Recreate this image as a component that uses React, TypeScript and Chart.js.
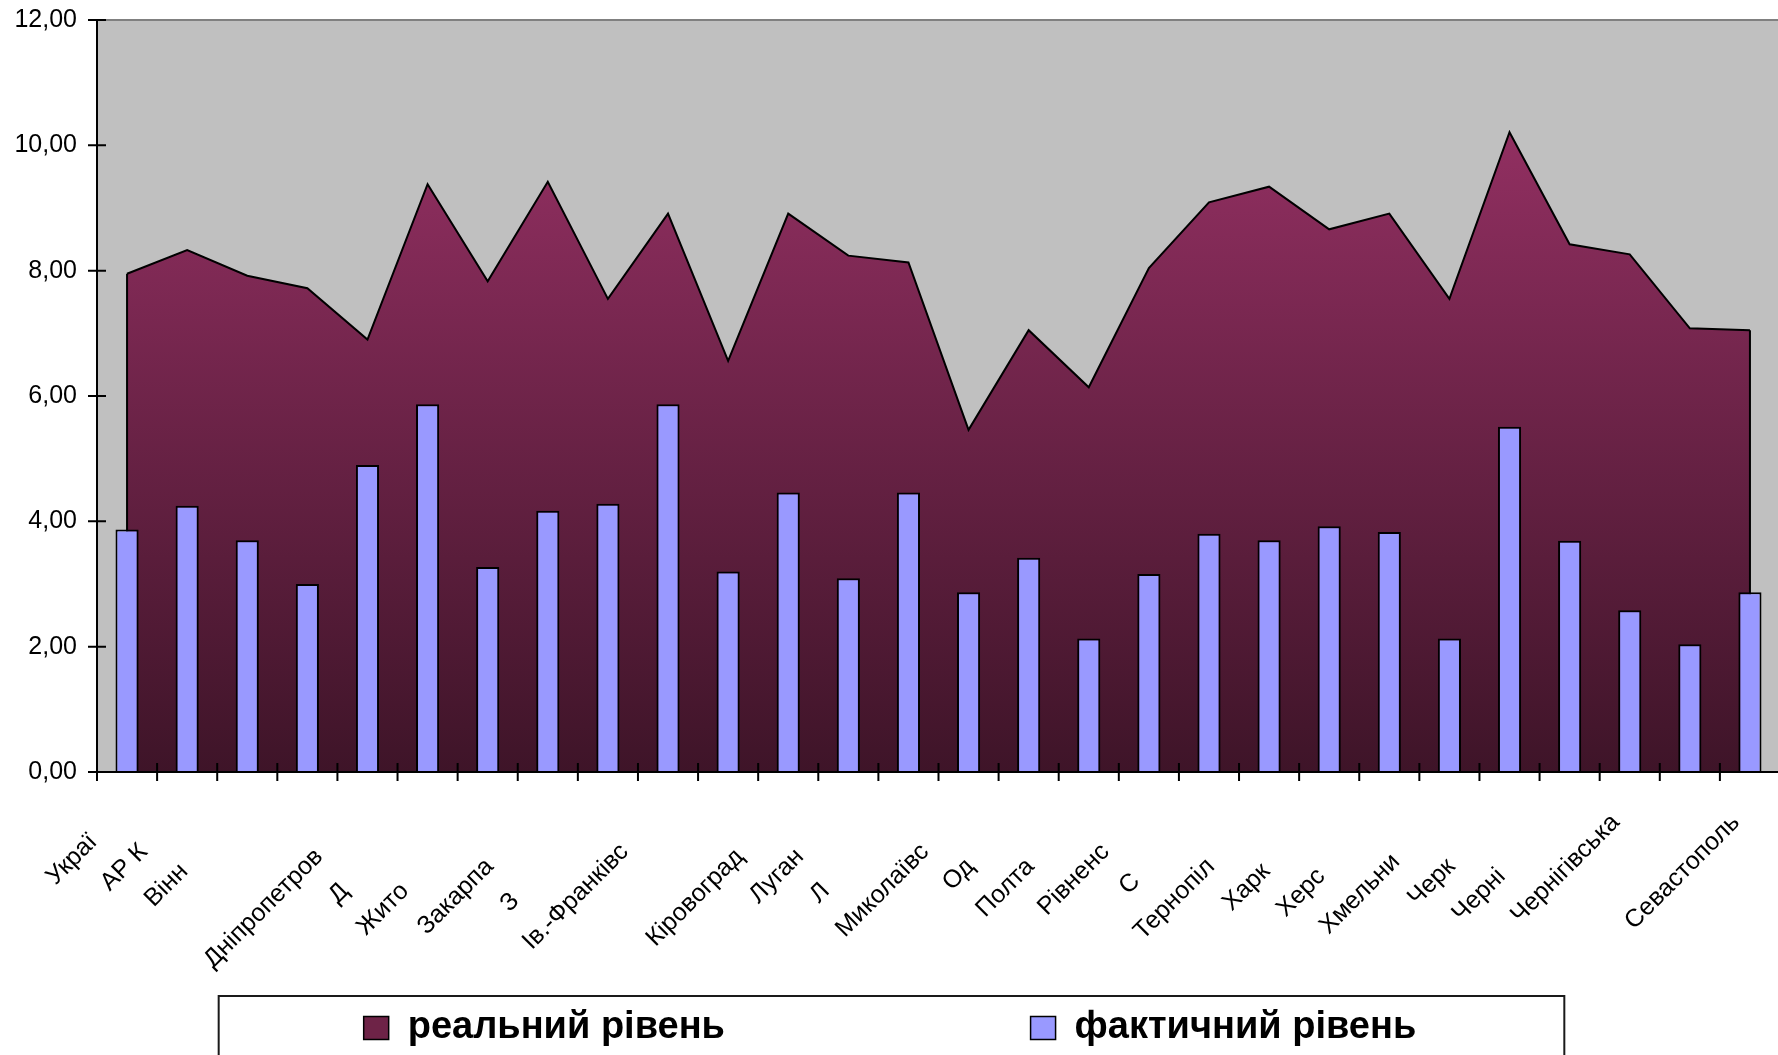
import React, { useEffect, useRef } from 'react';
import { Chart, registerables } from 'chart.js';

Chart.register(...registerables);

// Categories (full region names) and how many characters of each are visible in the source picture
const categories: string[] = [
  'Україна', 'АР Крим', 'Вінницька', 'Волинська', 'Дніпропетровська', 'Донецька', 'Житомирська',
  'Закарпатська', 'Запорізька', 'Ів.-Франківська', 'Київська', 'Кіровоградська', 'Луганська',
  'Львівська', 'Миколаївська', 'Одеська', 'Полтавська', 'Рівненська', 'Сумська', 'Тернопільська',
  'Харківська', 'Херсонська', 'Хмельницька', 'Черкаська', 'Чернівецька', 'Чернігівська', 'м. Київ',
  'Севастополь',
];
const visibleChars: number[] = [
  5, 4, 4, 0, 12, 1, 4, 7, 1, 12, 0, 10, 5, 1, 9, 2, 5, 7, 1, 8, 4, 4, 7, 4, 5, 12, 0, 11,
];

const seriesNames: string[] = ['реальний рівень', 'фактичний рівень'];

const realLevel: number[] = [
  7.95, 8.33, 7.92, 7.72, 6.90, 9.38, 7.83, 9.42, 7.55, 8.91, 6.56, 8.91, 8.24, 8.13,
  5.46, 7.05, 6.14, 8.04, 9.09, 9.34, 8.66, 8.91, 7.55, 10.21, 8.42, 8.26, 7.08, 7.05,
];
const actualLevel: number[] = [
  3.87, 4.25, 3.70, 3.00, 4.90, 5.87, 3.27, 4.17, 4.28, 5.87, 3.20, 4.46, 3.09, 4.46,
  2.87, 3.42, 2.13, 3.16, 3.80, 3.70, 3.92, 3.83, 2.13, 5.51, 3.69, 2.58, 2.04, 2.87,
];

const yTicks: number[] = [0, 2, 4, 6, 8, 10, 12];

const FONT = '"Liberation Sans", Arial, sans-serif';
const X_FONT_SIZE = 25;

function makeLabel(full: string, n: number): string {
  const c = document.createElement('canvas').getContext('2d');
  if (!c) return full.slice(0, n);
  c.font = `${X_FONT_SIZE}px ${FONT}`;
  const hidden = full.slice(n);
  const sp = c.measureText(' ').width || 6;
  const count = Math.round(c.measureText(hidden).width / sp);
  return full.slice(0, n) + ' '.repeat(count);
}

const framePlugin = {
  id: 'framePlugin',
  beforeDatasetsDraw(chart: any) {
    const { ctx, chartArea: a } = chart;
    ctx.save();
    ctx.fillStyle = '#c0c0c0';
    ctx.fillRect(a.left, a.top, a.right - a.left, a.bottom - a.top);
    ctx.strokeStyle = '#808080';
    ctx.lineWidth = 2;
    ctx.beginPath();
    ctx.moveTo(a.left, a.top);
    ctx.lineTo(a.right + 20, a.top);
    ctx.stroke();
    ctx.restore();
  },
  afterDatasetDraw(chart: any, args: any) {
    if (args.index !== 0) return;
    const pts = args.meta.data;
    if (!pts || !pts.length) return;
    const { ctx } = chart;
    const y0 = chart.scales.y.getPixelForValue(0);
    ctx.save();
    ctx.strokeStyle = '#000';
    ctx.lineWidth = 2;
    ctx.beginPath();
    ctx.moveTo(pts[0].x, pts[0].y);
    ctx.lineTo(pts[0].x, y0);
    const last = pts[pts.length - 1];
    ctx.moveTo(last.x, last.y);
    ctx.lineTo(last.x, y0);
    ctx.stroke();
    ctx.restore();
  },
  afterDatasetsDraw(chart: any) {
    const { ctx, chartArea: a } = chart;
    const xs = chart.scales.x;
    const ys = chart.scales.y;
    ctx.save();
    ctx.strokeStyle = '#000';
    ctx.lineWidth = 2;
    ctx.beginPath();
    ctx.moveTo(a.left, a.top);
    ctx.lineTo(a.left, a.bottom);
    ctx.moveTo(a.left, a.bottom);
    ctx.lineTo(a.right + 20, a.bottom);
    ys.ticks.forEach((t: any) => {
      const py = ys.getPixelForValue(t.value);
      ctx.moveTo(a.left - 9, py);
      ctx.lineTo(a.left + 9, py);
    });
    const step = xs.getPixelForValue(1) - xs.getPixelForValue(0);
    for (let i = 0; i <= categories.length; i++) {
      const px = xs.getPixelForValue(i) - step / 2;
      ctx.moveTo(px, a.bottom - 9);
      ctx.lineTo(px, a.bottom + 9);
    }
    ctx.stroke();
    ctx.restore();
  },
  afterDraw(chart: any) {
    const lg = chart.legend;
    if (!lg || !lg.legendHitBoxes || !lg.legendHitBoxes.length) return;
    const hb = lg.legendHitBoxes;
    const first = hb[0];
    const last = hb[hb.length - 1];
    const { ctx } = chart;
    ctx.save();
    ctx.strokeStyle = '#1a1a1a';
    ctx.lineWidth = 2;
    const l = first.left - 145;
    const r = last.left + last.width + 148;
    ctx.strokeRect(l, lg.top - 3, r - l, chart.height + 20 - lg.top);
    ctx.restore();
  },
};

export default function App() {
  const ref = useRef<HTMLCanvasElement | null>(null);

  useEffect(() => {
    if (!ref.current) return;
    Chart.defaults.color = '#000';
    Chart.defaults.font.family = FONT;
    const xLabels = categories.map((c, i) => makeLabel(c, visibleChars[i]));

    const chart = new Chart(ref.current, {
      type: 'bar',
      data: {
        labels: categories,
        datasets: [
          {
            type: 'line',
            label: seriesNames[0],
            data: realLevel,
            order: 2,
            fill: 'origin',
            tension: 0,
            pointRadius: 0,
            borderColor: '#000',
            borderWidth: 2,
            backgroundColor: (ctx: any) => {
              const area = ctx.chart.chartArea;
              if (!area) return '#6e2347';
              const g = ctx.chart.ctx.createLinearGradient(0, area.top, 0, area.bottom);
              g.addColorStop(0, '#a0346b');
              g.addColorStop(1, '#3e1428');
              return g;
            },
          } as any,
          {
            type: 'bar',
            label: seriesNames[1],
            data: actualLevel,
            order: 1,
            backgroundColor: '#9999ff',
            borderColor: '#000',
            borderWidth: 2,
            barPercentage: 0.385,
            categoryPercentage: 1,
          },
        ],
      },
      options: {
        animation: false,
        responsive: false,
        maintainAspectRatio: false,
        devicePixelRatio: 1,
        layout: { padding: { top: 20, right: 10, left: 0, bottom: 0 } },
        plugins: {
          tooltip: { enabled: false },
          legend: {
            position: 'bottom',
            labels: {
              font: { family: FONT, size: 38, weight: 'bold' },
              color: '#000',
              boxWidth: 25,
              boxHeight: 23,
              padding: 10,
              generateLabels: () => [
                {
                  text: seriesNames[0] + ' '.repeat(28),
                  fillStyle: '#6e2347',
                  strokeStyle: '#000',
                  lineWidth: 1.5,
                  hidden: false,
                  datasetIndex: 0,
                },
                {
                  text: seriesNames[1],
                  fillStyle: '#9999ff',
                  strokeStyle: '#000',
                  lineWidth: 1.5,
                  hidden: false,
                  datasetIndex: 1,
                },
              ],
            },
          },
        },
        scales: {
          x: {
            offset: true,
            grid: { display: false, drawTicks: false },
            border: { display: false },
            ticks: {
              autoSkip: false,
              minRotation: 45,
              maxRotation: 45,
              padding: 36,
              labelOffset: -14,
              color: '#000',
              font: { family: FONT, size: X_FONT_SIZE },
              callback: (_v: any, i: number) => xLabels[i],
            },
            afterFit: (s: any) => {
              s.height = 227;
              s.paddingLeft = 0;
              s.paddingRight = 0;
            },
          },
          y: {
            min: 0,
            max: 12,
            grid: { display: false, drawTicks: false },
            border: { display: false },
            afterBuildTicks: (s: any) => {
              s.ticks = yTicks.map((v) => ({ value: v }));
            },
            ticks: {
              padding: 20,
              color: '#000',
              font: { family: FONT, size: 25 },
              callback: (v: any) => Number(v).toFixed(2).replace('.', ','),
            },
            afterFit: (s: any) => {
              s.width = 97;
              s.paddingTop = 0;
              s.paddingBottom = 0;
            },
          },
        },
      },
      plugins: [framePlugin],
    });
    return () => chart.destroy();
  }, []);

  return (
    <div
      style={{
        position: 'fixed',
        left: 0,
        top: 0,
        width: 1778,
        height: 1055,
        overflow: 'hidden',
        background: '#fff',
      }}
    >
      <canvas ref={ref} width={1790} height={1057} style={{ display: 'block', width: 1790, height: 1057 }} />
    </div>
  );
}
